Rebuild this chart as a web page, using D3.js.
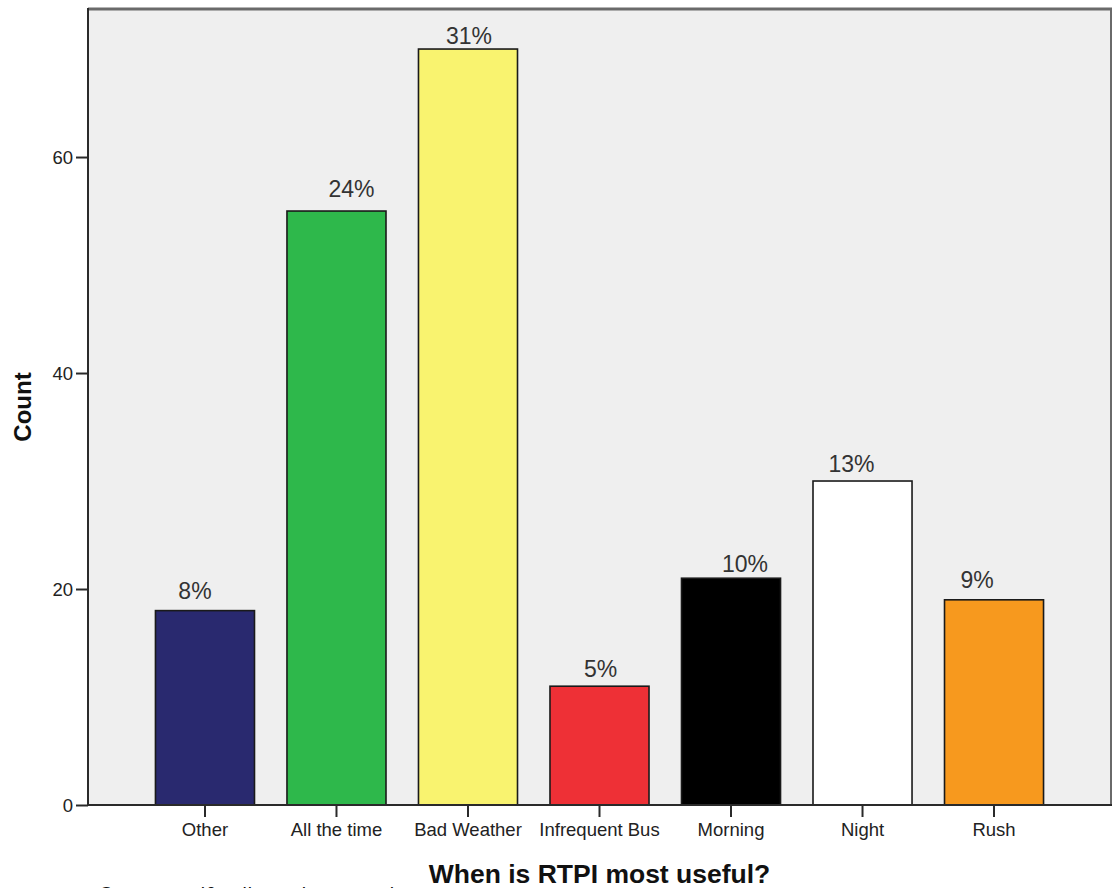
<!DOCTYPE html>
<html>
<head>
<meta charset="utf-8">
<script src="https://cdn.jsdelivr.net/npm/d3@7/dist/d3.min.js"></script>
<style>
  html, body { margin: 0; padding: 0; background: #ffffff; }
  svg { display: block; }
</style>
</head>
<body>
<svg id="chart" width="1112" height="888"></svg>
<script>
// Survey responses: when real-time passenger information is most useful
const categories = ["Other", "All the time", "Bad Weather", "Infrequent Bus", "Morning", "Night", "Rush"];
const counts = [18, 55, 70, 11, 21, 30, 19];
const percentLabels = ["8%", "24%", "31%", "5%", "10%", "13%", "9%"];
const barColors = ["#29296f", "#2eb84b", "#f9f36f", "#ee3036", "#000000", "#ffffff", "#f7991e"];
const yTicks = [0, 20, 40, 60];

// label placement tweaks (dx, dy in px)
const labelDx = [-10, 15, 1, 1, 14, -11, -17];
const labelDy = [12, 14, 5, 9, 6, 9, 12];

const svg = d3.select("#chart");
const plot = { left: 88, right: 1111, top: 8, bottom: 805 };

const x = d3.scaleBand()
  .domain(categories)
  .range([plot.left, plot.right])
  .paddingInner(0.247)
  .paddingOuter(0.513);

const y = d3.scaleLinear()
  .domain([0, 73.8])
  .range([plot.bottom, plot.top]);

// plot background
svg.append("rect")
  .attr("x", plot.left).attr("y", plot.top)
  .attr("width", plot.right - plot.left).attr("height", plot.bottom - plot.top)
  .attr("fill", "#efefef");

// frame: top and right edges
svg.append("line")
  .attr("x1", plot.left).attr("x2", 1112)
  .attr("y1", plot.top + 1).attr("y2", plot.top + 1)
  .attr("stroke", "#6a6a6a").attr("stroke-width", 3);
svg.append("line")
  .attr("x1", plot.right).attr("x2", plot.right)
  .attr("y1", plot.top).attr("y2", plot.bottom)
  .attr("stroke", "#6a6a6a").attr("stroke-width", 2);

// bars
svg.append("g").selectAll("rect")
  .data(categories)
  .join("rect")
  .attr("x", d => x(d))
  .attr("width", x.bandwidth())
  .attr("y", (d, i) => y(counts[i]))
  .attr("height", (d, i) => y(0) - y(counts[i]))
  .attr("fill", (d, i) => barColors[i])
  .attr("stroke", "#1a1a1a")
  .attr("stroke-width", 1.6);

// percentage labels
svg.append("g").selectAll("text")
  .data(categories)
  .join("text")
  .attr("x", (d, i) => x(d) + x.bandwidth() / 2 + labelDx[i])
  .attr("y", (d, i) => y(counts[i]) - labelDy[i])
  .attr("text-anchor", "middle")
  .attr("font-family", "'Liberation Sans', Arial, sans-serif")
  .attr("font-size", 23)
  .attr("fill", "#333333")
  .text((d, i) => percentLabels[i]);

// y axis
const yAxis = svg.append("g")
  .attr("transform", `translate(${plot.left},0)`)
  .call(d3.axisLeft(y).tickValues(yTicks).tickSize(12).tickPadding(3).tickFormat(d3.format("d")));
yAxis.select(".domain").attr("stroke", "#2a2a2a").attr("stroke-width", 2)
  .attr("d", `M0,${plot.top}V${plot.bottom}`);
yAxis.selectAll(".tick line").attr("stroke", "#2a2a2a").attr("stroke-width", 2);
yAxis.selectAll(".tick text")
  .attr("font-family", "'Liberation Sans', Arial, sans-serif")
  .attr("font-size", 18.5).attr("fill", "#222222").attr("dy", "0.36em");

// x axis
const xAxis = svg.append("g")
  .attr("transform", `translate(0,${plot.bottom})`)
  .call(d3.axisBottom(x).tickSize(12).tickPadding(6));
xAxis.select(".domain").attr("stroke", "#2a2a2a").attr("stroke-width", 2)
  .attr("d", `M${plot.left},0H1112`);
xAxis.selectAll(".tick line").attr("stroke", "#2a2a2a").attr("stroke-width", 2);
xAxis.selectAll(".tick text")
  .attr("font-family", "'Liberation Sans', Arial, sans-serif")
  .attr("font-size", 18.5).attr("fill", "#222222");

// axis titles
svg.append("text")
  .attr("x", (plot.left + plot.right) / 2)
  .attr("y", 883)
  .attr("text-anchor", "middle")
  .attr("font-family", "'Liberation Sans', Arial, sans-serif")
  .attr("font-weight", "bold")
  .attr("font-size", 26.5)
  .attr("fill", "#111111")
  .text("When is RTPI most useful?");

svg.append("text")
  .attr("transform", "translate(31,407) rotate(-90)")
  .attr("text-anchor", "middle")
  .attr("font-family", "'Liberation Sans', Arial, sans-serif")
  .attr("font-weight", "bold")
  .attr("font-size", 24)
  .attr("fill", "#111111")
  .text("Count");

// source note below the chart, running off the bottom edge
svg.append("text")
  .attr("x", 100)
  .attr("y", 903)
  .attr("font-family", "'Open Sans', sans-serif")
  .attr("font-size", 21)
  .attr("fill", "#111111")
  .text("Source: self-collected survey data");
</script>
</body>
</html>
